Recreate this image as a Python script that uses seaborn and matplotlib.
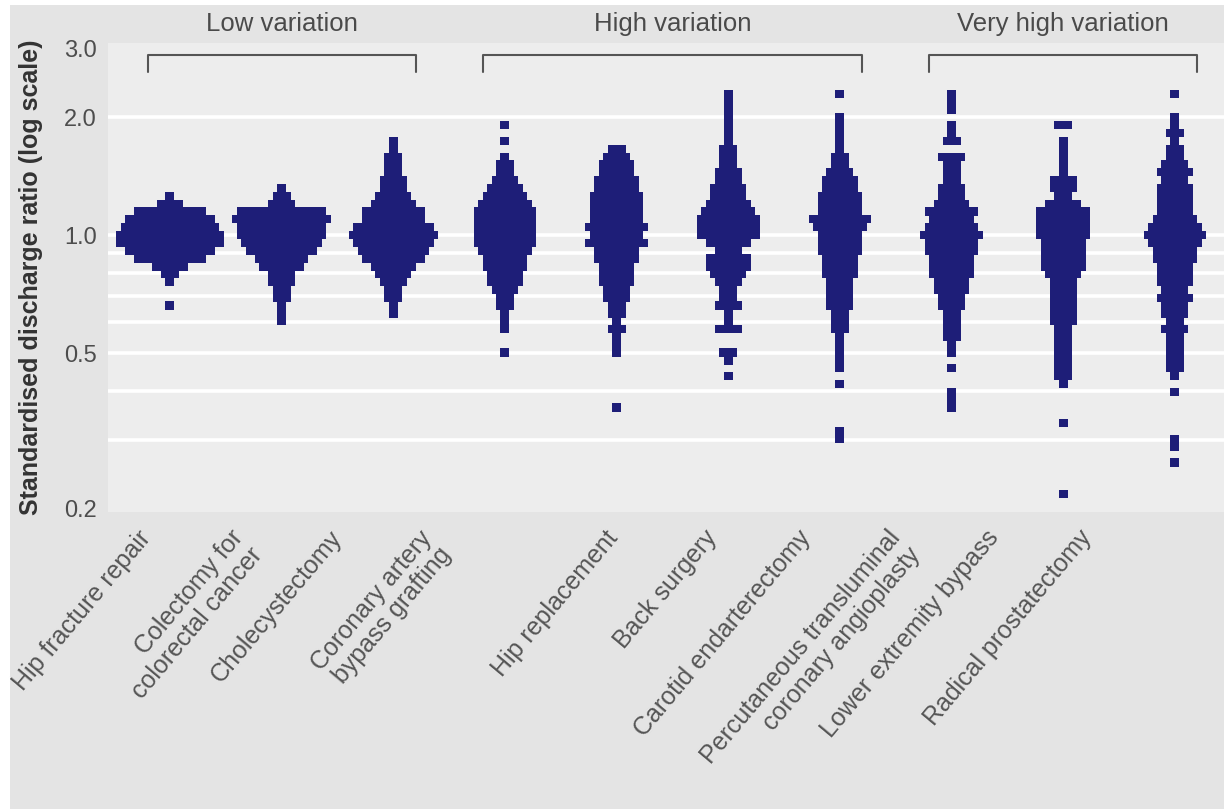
import numpy as np
import pandas as pd
import matplotlib
matplotlib.use("Agg")
import matplotlib.pyplot as plt
import matplotlib.transforms as mtransforms
from matplotlib.markers import MarkerStyle
from matplotlib.patches import Rectangle
import seaborn as sns

# procedures, left to right
procedures = [
    "Hip fracture repair",
    "Colectomy for\ncolorectal cancer",
    "Cholecystectomy",
    "Coronary artery\nbypass grafting",
    "Hip replacement",
    "Back surgery",
    "Carotid endarterectomy",
    "Percutaneous transluminal\ncoronary angioplasty",
    "Lower extremity bypass",
    "Radical prostatectomy",
]

# each swarm is read off the picture as rows of dots: rows are 0.02 apart in log10(ratio),
# row k sits at ratio 10**(0.02*k); first_row is the lowest k, counts go bottom -> top
ROW_STEP = 0.02
first_row = [-9, -11, -10, -15, -22, -18, -26, -22, -33, -29]
row_counts = [
    [1, 0, 0, 1, 2, 4, 8, 10, 12, 12, 11, 10, 8, 3, 1],
    [1, 1, 1, 2, 2, 3, 3, 5, 6, 8, 9, 10, 10, 11, 10, 3, 2, 1],
    [1, 1, 2, 2, 3, 4, 5, 7, 8, 9, 10, 9, 7, 7, 5, 4, 3, 3, 2, 2, 2, 1, 1],
    [1, 0, 0, 1, 1, 1, 2, 2, 3, 4, 4, 5, 5, 6, 7, 7, 7, 7, 7, 6, 5, 4, 3, 2, 2, 1, 0, 1, 0, 1],
    [1, 0, 0, 0, 0, 0, 0, 1, 1, 1, 2, 1, 2, 2, 3, 3, 4, 4, 4, 5, 5, 7, 6, 7, 6, 6, 6, 6,
     5, 5, 4, 4, 3, 2],
    [1, 0, 1, 2, 0, 0, 3, 1, 1, 3, 2, 2, 3, 4, 5, 5, 3, 5, 7, 7, 7, 6, 5, 4, 4, 3, 3, 2,
     2, 2, 1, 1, 1, 1, 1, 1, 1],
    [1, 1, 0, 0, 0, 0, 0, 1, 0, 1, 1, 1, 1, 1, 2, 2, 2, 3, 3, 3, 3, 4, 4, 4, 5, 5, 5, 6,
     7, 5, 5, 5, 4, 4, 3, 2, 2, 1, 1, 1, 1, 1, 0, 0, 1],
    [1, 1, 1, 0, 0, 1, 0, 1, 1, 2, 2, 2, 2, 3, 3, 4, 4, 5, 5, 5, 6, 6, 7, 6, 5, 6, 4, 3,
     3, 2, 2, 2, 3, 0, 2, 1, 1, 0, 1, 1, 1],
    [1, 0, 0, 0, 0, 0, 0, 0, 0, 1, 0, 0, 0, 0, 1, 2, 2, 2, 2, 2, 2, 2, 3, 3, 3, 3, 3, 3,
     4, 5, 5, 5, 5, 6, 6, 6, 6, 4, 2, 3, 3, 1, 1, 1, 1, 1, 0, 2],
    [1, 0, 1, 1, 0, 0, 0, 0, 0, 1, 0, 1, 2, 2, 2, 2, 2, 3, 2, 3, 3, 4, 3, 4, 4, 4, 5, 5,
     6, 7, 6, 5, 4, 4, 4, 4, 3, 4, 3, 2, 2, 1, 2, 1, 1, 0, 0, 1],
]

# variation groups: (label, first procedure, last procedure)
groups = [("Low variation", 0, 2), ("High variation", 3, 6), ("Very high variation", 7, 9)]

tick_vals = [0.2, 0.5, 1.0, 2.0, 3.0]
tick_labels = ["0.2", "0.5", "1.0", "2.0", "3.0"]
grid_levels = [0.3, 0.4, 0.5, 0.6, 0.7, 0.8, 0.9, 1.0, 2.0]

# the hand-placed category labels sit left of their swarms
label_shift = [-0.29, -0.47, -0.58, -0.78, -0.11, -0.22, -0.38, -0.58, -0.70, -0.87]

NAVY = "#1e1e78"
DOT_W = 0.08  # horizontal room for one dot, in category units

rows = []
for i, (start, counts) in enumerate(zip(first_row, row_counts)):
    for k, n in enumerate(counts, start=start):
        for j in range(n):
            rows.append({"pos": i + (j - (n - 1) / 2) * DOT_W,
                         "ratio": 10 ** (k * ROW_STEP),
                         "procedure": procedures[i]})
df = pd.DataFrame(rows)

sns.set_style("white")
plt.rcParams["font.family"] = ["Liberation Sans", "DejaVu Sans"]

fig = plt.figure(figsize=(12.24, 8.09), dpi=100, facecolor="white")
fig.add_artist(Rectangle((10 / 1224, 0), 1, 1 - 5 / 809, transform=fig.transFigure,
                         facecolor="#e4e4e4", edgecolor="none", zorder=-10))
ax = fig.add_axes([108 / 1224, 297 / 809, 1 - 108 / 1224, 469 / 809])
ax.set_facecolor("#ededed")
ax.set_yscale("log")

for g in grid_levels:
    ax.axhline(g, color="white", lw=2.6, zorder=0)

dot = MarkerStyle([(-0.5, -0.46), (0.5, -0.46), (0.5, 0.46), (-0.5, 0.46), (-0.5, -0.46)])
sns.scatterplot(data=df, x="pos", y="ratio", marker=dot, s=42, color=NAVY,
                linewidth=0, edgecolor="none", legend=False, ax=ax, zorder=2)

ax.set_xlim(-0.555, 9.44)
ax.set_ylim(0.1965, 3.09)
ax.set_xticks([])
ax.set_yticks(tick_vals, labels=tick_labels)
ax.yaxis.set_minor_locator(matplotlib.ticker.NullLocator())
ax.tick_params(axis="y", length=0, pad=8, labelsize=17, labelcolor="#4d4d4d")
for s in ax.spines.values():
    s.set_visible(False)
ax.set_xlabel("")
ax.set_ylabel("Standardised discharge ratio (log scale)", fontsize=18,
              fontweight="bold", color="#333333")
ax.yaxis.set_label_coords(-0.058, 0.5)

trans = mtransforms.blended_transform_factory(ax.transData, ax.transAxes)
for i, name in enumerate(procedures):
    ax.text(i + label_shift[i], -0.03, name, transform=trans, rotation=50,
            rotation_mode="anchor", ha="right", va="top", fontsize=18,
            color="#555555", linespacing=1.1)

for name, a, b in groups:
    ax.plot([a - 0.2, a - 0.2, b + 0.2, b + 0.2], [2.6, 2.88, 2.88, 2.6],
            color="#555555", lw=1.5, clip_on=False)
    ax.text((a + b) / 2, 1.04, name, transform=trans, ha="center", va="center",
            fontsize=18.5, color="#4a4a4a")

fig.savefig("out.png", dpi=100, facecolor=fig.get_facecolor())
